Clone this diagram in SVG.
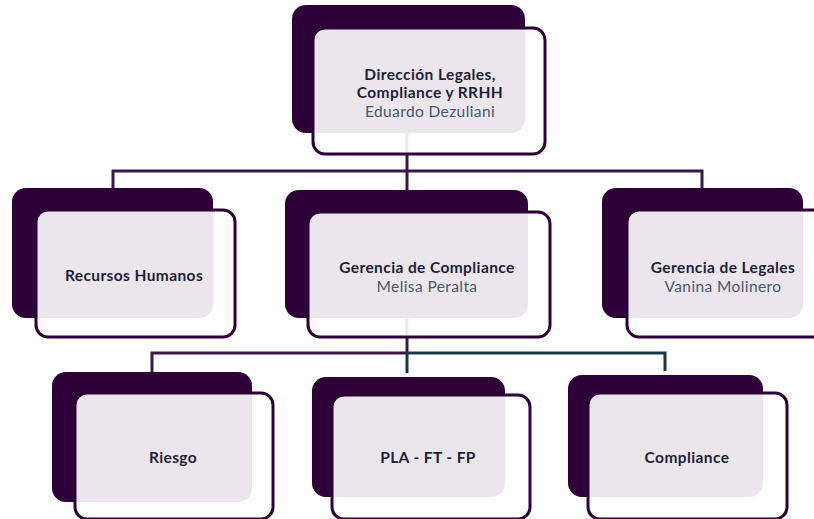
<svg xmlns="http://www.w3.org/2000/svg" width="814" height="519" viewBox="0 0 814 519">
<style>
.bk{fill:#2d0038}
.fr{fill:#ffffff;fill-opacity:0.9;stroke:#2d0038;stroke-width:3}
.t{font-family:Lato,"Open Sans","Liberation Sans",sans-serif;font-size:15.5px;font-weight:bold;fill:#1f1f3a;text-anchor:middle;letter-spacing:0.4px}
.n{font-family:Lato,"Open Sans","Liberation Sans",sans-serif;font-size:15.5px;fill:#4a5670;text-anchor:middle;letter-spacing:0.4px}
.c{fill:none;stroke:#3a1848;stroke-width:3}
.c2{fill:none;stroke:#1e3444;stroke-width:3}
</style>
<rect width="814" height="519" fill="#ffffff"/>
<g id="connectors">
<path class="c" d="M407 133 V190 M113 188 V171 H702 V188"/>
<path class="c" d="M407 318 V353 M152 372 V353 H407"/>
<path class="c2" d="M407 353 H665 V371 M407 353 V373"/>
</g>
<g id="n-direccion">
<rect class="bk" x="292" y="5" width="233" height="128" rx="14"/>
<rect class="fr" x="313" y="28" width="232" height="126" rx="12"/>
<text class="t" x="430" y="80">Dirección Legales,</text>
<text class="t" x="430" y="98">Compliance y RRHH</text>
<text class="n" x="430" y="117">Eduardo Dezuliani</text>
</g>
<g id="n-rrhh">
<rect class="bk" x="12" y="188" width="201" height="130" rx="14"/>
<rect class="fr" x="36" y="210" width="199" height="127" rx="12"/>
<text class="t" x="134" y="281">Recursos Humanos</text>
</g>
<g id="n-gcompliance">
<rect class="bk" x="285" y="190" width="243" height="128" rx="14"/>
<rect class="fr" x="308" y="212" width="242" height="125" rx="12"/>
<text class="t" x="427" y="273">Gerencia de Compliance</text>
<text class="n" x="427" y="292">Melisa Peralta</text>
</g>
<g id="n-glegales">
<rect class="bk" x="602" y="188" width="201" height="130" rx="14"/>
<rect class="fr" x="627" y="210" width="200" height="127" rx="12"/>
<text class="t" x="723" y="273">Gerencia de Legales</text>
<text class="n" x="723" y="292">Vanina Molinero</text>
</g>
<g id="n-riesgo">
<rect class="bk" x="52" y="372" width="200" height="130" rx="14"/>
<rect class="fr" x="75" y="393" width="198" height="126" rx="12"/>
<text class="t" x="173" y="463">Riesgo</text>
</g>
<g id="n-pla">
<rect class="bk" x="312" y="377" width="193" height="120" rx="14"/>
<rect class="fr" x="332" y="395" width="198" height="124" rx="12"/>
<text class="t" x="428" y="463">PLA - FT - FP</text>
</g>
<g id="n-compliance">
<rect class="bk" x="568" y="375" width="195" height="122" rx="14"/>
<rect class="fr" x="588" y="393" width="199" height="126" rx="12"/>
<text class="t" x="687" y="463">Compliance</text>
</g>
</svg>
